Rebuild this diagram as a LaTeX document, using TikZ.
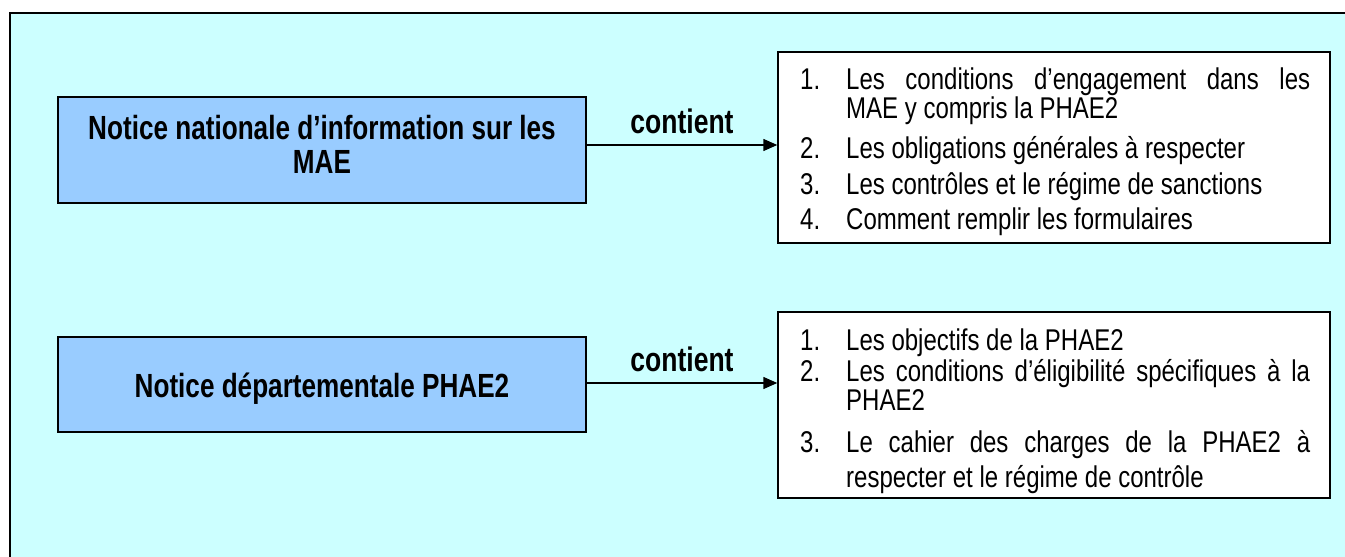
\documentclass[tikz,border=0pt]{standalone}
\usepackage{fontspec}
\setmainfont{Liberation Sans}
\newfontfamily\listf{Liberation Sans}[FakeStretch=0.8]
\newfontfamily\titlef{Liberation Sans}[FakeStretch=0.78]
\usetikzlibrary{arrows.meta}
\definecolor{bgcyan}{HTML}{CCFFFF}
\definecolor{boxblue}{HTML}{99CCFF}
\tikzset{
  titlebox/.style={draw=black, line width=1.5pt, fill=boxblue, minimum width=528pt, inner sep=0pt},
  titletext/.style={align=center, inner sep=0pt, font=\titlef\fontsize{33.5}{34}\selectfont\bfseries},
  listbox/.style={draw=black, line width=1.5pt, fill=white, minimum width=552pt, inner sep=0pt},
  lst/.style={inner sep=0pt, anchor=base west, font=\listf\fontsize{30}{34}\selectfont},
  link/.style={line width=1.5pt, -{Triangle[length=14pt,width=12pt]}},
  linklabel/.style={font=\titlef\fontsize{34}{34}\selectfont\bfseries, inner sep=0pt}
}
\begin{document}
\begin{tikzpicture}[x=1pt,y=-1pt]
\useasboundingbox (0,0) rectangle (1345,557);
\clip (0,0) rectangle (1345,557);
\fill[white] (0,0) rectangle (1345,557);
\fill[bgcyan] (10,13) rectangle (1360,570);
\draw[line width=2.2pt] (1360,13) -- (10,13) -- (10,570);

% left boxes
\node[titlebox, minimum height=106pt] (n1) at (322,150) {};
\node[titletext] (t1) at (322,144) {Notice nationale d’information sur les\\[0pt]MAE};
\node[titlebox, minimum height=95pt] (n2) at (322,384.5) {};
\node[titletext] (t2) at (322,389) {Notice départementale PHAE2};

% right boxes
\node[listbox, minimum height=191pt] (r1) at (1054,147.5) {};
\node[listbox, minimum height=186pt] (r2) at (1054,405) {};

% list 1
\node[lst] (a1n) at (800,89) {1.};
\node[lst] (a1t) at (846,89) {\makebox[464pt][s]{Les conditions d’engagement dans les}};
\node[lst] (a1u) at (846,118.5) {MAE y compris la PHAE2};
\node[lst] (a2n) at (800,158) {2.};
\node[lst] (a2t) at (846,158) {Les obligations générales à respecter};
\node[lst] (a3n) at (800,194) {3.};
\node[lst] (a3t) at (846,194) {Les contrôles et le régime de sanctions};
\node[lst] (a4n) at (800,229) {4.};
\node[lst] (a4t) at (846,229) {Comment remplir les formulaires};

% list 2
\node[lst] (b1n) at (800,350) {1.};
\node[lst] (b1t) at (846,350) {Les objectifs de la PHAE2};
\node[lst] (b2n) at (800,381) {2.};
\node[lst] (b2t) at (846,381) {\makebox[464pt][s]{Les conditions d’éligibilité spécifiques à la}};
\node[lst] (b2u) at (846,410) {PHAE2};
\node[lst] (b3n) at (800,452) {3.};
\node[lst] (b3t) at (846,452) {\makebox[464pt][s]{Le cahier des charges de la PHAE2 à}};
\node[lst] (b3u) at (846,487) {respecter et le régime de contrôle};

% connectors
\draw[link] ([yshift=5pt]n1.east) -- ([yshift=5pt]n1.east -| r1.west)
  node[linklabel, midway, above=10pt] {contient};
\draw[link] ([yshift=1.5pt]n2.east) -- ([yshift=1.5pt]n2.east -| r2.west)
  node[linklabel, midway, above=10pt] {contient};
\end{tikzpicture}
\end{document}
